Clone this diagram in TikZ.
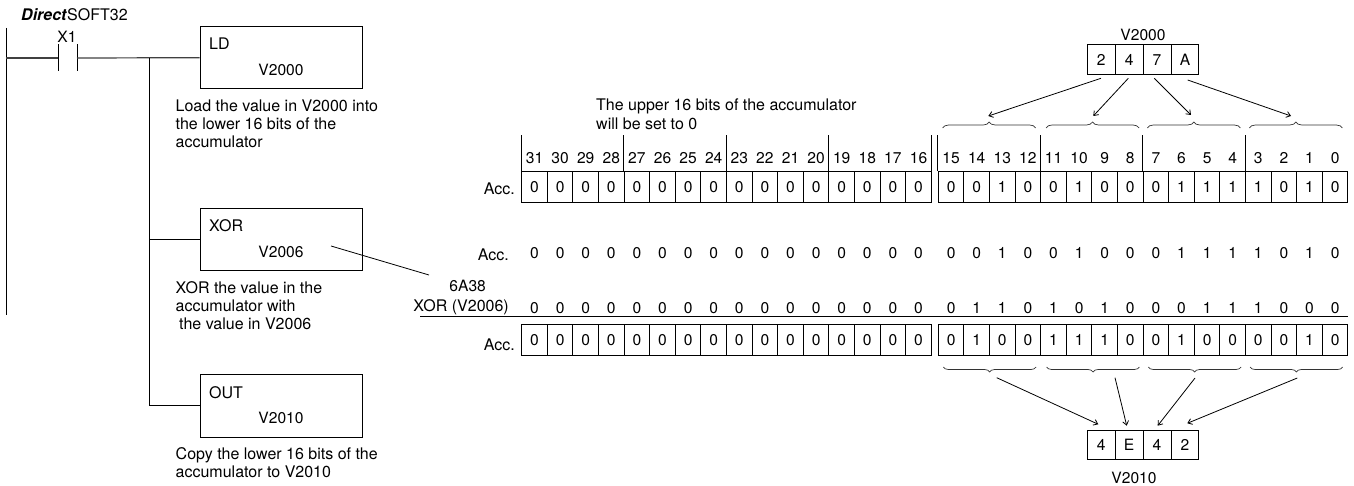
\documentclass[tikz,border=0pt]{standalone}
\usepackage{fontspec}
\setmainfont{TeX Gyre Heros}
\usetikzlibrary{arrows.meta,decorations.pathreplacing}
\tikzset{
  ln/.style={line width=0.9pt,black},
  rung/.style={line width=1.2pt,black!75},
  ptr/.style={line width=0.8pt,black,-{Straight Barb[length=4pt,width=6pt]}},
  brc/.style={line width=0.7pt,black!80,decorate,decoration={brace,amplitude=6pt}},
  brcm/.style={line width=0.7pt,black!80,decorate,decoration={brace,amplitude=5pt,mirror}},
  txt/.style={inner sep=0pt,anchor=base west,font=\fontsize{16}{18}\selectfont},
  txtc/.style={inner sep=0pt,anchor=base,font=\fontsize{15.6}{18}\selectfont},
  txte/.style={inner sep=0pt,anchor=base east,font=\fontsize{16}{18}\selectfont},
  cell/.style={draw,line width=0.9pt,inner sep=0pt,minimum width=25.6pt,minimum height=31pt,font=\fontsize{15.6}{18}\selectfont},
  hcell/.style={draw,line width=0.9pt,inner sep=0pt,minimum width=27.9pt,minimum height=29.3pt,font=\fontsize{15.6}{18}\selectfont},
  instr/.style={draw,line width=0.9pt,inner sep=0pt,minimum width=162pt,minimum height=62.5pt},
}
\newcommand{\bitx}[1]{\ifnum#1<16 \pgfmathparse{521.7+25.6*(#1+.5)}\else\pgfmathparse{938.3+25.6*(#1-16+.5)}\fi}
\begin{document}
\begin{tikzpicture}[x=1pt,y=-1pt]
\useasboundingbox (0,0) rectangle (1354,486);
% ladder
\node[txt] (title) at (21,20.5) {\textbf{\textit{Direct}}SOFT32};
\node[txtc] (x1) at (67,43) {X1};
\coordinate (railtop) at (6,28);
\coordinate (railbot) at (6,315);
\coordinate (railrung) at (6,58);
\coordinate (conla) at (58,58);
\coordinate (conra) at (77,58);
\coordinate (contl) at (58,44.5);
\coordinate (contlb) at (58,71.5);
\coordinate (contr) at (77,44.5);
\coordinate (contrb) at (77,71.5);
\coordinate (branch) at (149.5,58);
\draw[ln] (railtop) -- (railbot);
\draw[ln] (contl) -- (contlb);
\draw[ln] (contr) -- (contrb);
\node[instr] (ld) at (281,57.7) {};
\node[instr] (xor) at (281,239.7) {};
\node[instr] (out) at (281,405.7) {};
\draw[rung] (railrung) -- (conla);
\draw[rung] (conra) -- (ld.west);
\draw[ln] (branch) |- (xor.west);
\draw[ln] (branch) |- (out.west);
\node[txt] (ldt) at (209,50) {LD};
\node[txtc] (ldv) at (281,75.5) {V2000};
\node[txt] (xort) at (209,232) {XOR};
\node[txtc] (xorv) at (281,257.5) {V2006};
\node[txt] (outt) at (209,398) {OUT};
\node[txtc] (outv) at (281,423.5) {V2010};
\node[txt] (d1a) at (175.5,111.5) {Load the value in V2000 into};
\node[txt] (d1b) at (175.5,129.5) {the lower 16 bits of the};
\node[txt] (d1c) at (175.5,147.5) {accumulator};
\node[txt] (d2a) at (175.5,293.5) {XOR the value in the};
\node[txt] (d2b) at (175.5,311.5) {accumulator with};
\node[txt] (d2c) at (179,329.5) {the value in V2006};
\node[txt] (d3a) at (175.5,459.5) {Copy the lower 16 bits of the};
\node[txt] (d3b) at (175.5,477.5) {accumulator to V2010};
% pointer from XOR to constant
\coordinate (xs) at (331,246);
\coordinate (xe) at (429,275);
\draw[line width=0.8pt] (xs) -- (xe);
\node[txtc] (k) at (467.7,291.5) {6A38};
% labels
\node[txt] (up1) at (596,111) {The upper 16 bits of the accumulator};
\node[txt] (up2) at (596,129.5) {will be set to 0};
\node[txte] (acc1) at (515,194.5) {Acc.};
\node[txte] (acc2) at (509,260.5) {Acc.};
\node[txte] (xlab) at (509,312) {XOR (V2006)};
\node[txte] (acc3) at (515,350) {Acc.};
% bit numbers and rows
\foreach \n [count=\i from 0] in {31,30,29,28,27,26,25,24,23,22,21,20,19,18,17,16,15,14,13,12,11,10,9,8,7,6,5,4,3,2,1,0}{
  \bitx{\i}\let\xx\pgfmathresult
  \node[txtc] (n\i) at (\xx,163.5) {\n};
}
\foreach \b [count=\i from 0] in {0,0,0,0,0,0,0,0,0,0,0,0,0,0,0,0,0,0,1,0,0,1,0,0,0,1,1,1,1,0,1,0}{
  \bitx{\i}\let\xx\pgfmathresult
  \node[cell] (a\i) at (\xx,186.8) {\b};
  \node[txtc] (p\i) at (\xx,258.5) {\b};
}
\foreach \b [count=\i from 0] in {0,0,0,0,0,0,0,0,0,0,0,0,0,0,0,0,0,1,1,0,1,0,1,0,0,0,1,1,1,0,0,0}{
  \bitx{\i}\let\xx\pgfmathresult
  \node[txtc] (q\i) at (\xx,313) {\b};
}
\foreach \b [count=\i from 0] in {0,0,0,0,0,0,0,0,0,0,0,0,0,0,0,0,0,1,0,0,1,1,1,0,0,1,0,0,0,0,1,0}{
  \bitx{\i}\let\xx\pgfmathresult
  \node[cell] (r\i) at (\xx,339.7) {\b};
}
% rule
\coordinate (rulea) at (420,316.7);
\coordinate (ruleb) at (1348.3,316.7);
\draw[ln] (rulea) -- (ruleb);
% ticks
\foreach \i in {0,4,8,12,16,20,24,28}{
  \draw[ln] (a\i.north west) -- ++(0,-36);
}
\draw[ln] (a15.north east) -- ++(0,-36);
% hex boxes
\node[txtc] (v2000) at (1143,40.5) {V2000};
\foreach \h [count=\i from 0] in {2,4,7,A}{
  \node[hcell] (s\i) at ({1087.3+27.9*(\i+.5)},59.6) {\h};
}
\foreach \h [count=\i from 0] in {4,E,4,2}{
  \node[hcell] (t\i) at ({1087.3+27.9*(\i+.5)},444.6) {\h};
}
\node[txtc] (v2010) at (1134,483) {V2010};
% upper braces
\coordinate (ub1a) at (942.7,128); \coordinate (ub1b) at (1035.7,128);
\coordinate (ub2a) at (1046,128); \coordinate (ub2b) at (1139,128);
\coordinate (ub3a) at (1147.3,128); \coordinate (ub3b) at (1240.3,128);
\coordinate (ub4a) at (1249.3,128); \coordinate (ub4b) at (1342.3,128);
\draw[brc] (ub1a) -- (ub1b);
\draw[brc] (ub2a) -- (ub2b);
\draw[brc] (ub3a) -- (ub3b);
\draw[brc] (ub4a) -- (ub4b);
% lower braces
\coordinate (lb1a) at (943.3,367); \coordinate (lb1b) at (1036,367);
\coordinate (lb2a) at (1046.7,367); \coordinate (lb2b) at (1139.3,367);
\coordinate (lb3a) at (1148.3,367); \coordinate (lb3b) at (1241,367);
\coordinate (lb4a) at (1250,367); \coordinate (lb4b) at (1342.7,367);
\draw[brcm] (lb1a) -- (lb1b);
\draw[brcm] (lb2a) -- (lb2b);
\draw[brcm] (lb3a) -- (lb3b);
\draw[brcm] (lb4a) -- (lb4b);
% arrows upper
\coordinate (ua1) at (1101,78.3); \coordinate (ut1) at (988.3,116);
\coordinate (ua2) at (1128.3,78.3); \coordinate (ut2) at (1093.3,116);
\coordinate (ua3) at (1154.3,78.3); \coordinate (ut3) at (1191,115);
\coordinate (ua4) at (1187.7,80); \coordinate (ut4) at (1291,116);
\draw[ptr] (ua1) -- (ut1);
\draw[ptr] (ua2) -- (ut2);
\draw[ptr] (ua3) -- (ut3);
\draw[ptr] (ua4) -- (ut4);
% arrows lower
\coordinate (la1) at (996.7,377.7); \coordinate (lt1) at (1098.3,424.3);
\coordinate (la2) at (1115,377.7); \coordinate (lt2) at (1126.7,425.7);
\coordinate (la3) at (1195,378); \coordinate (lt3) at (1157.7,425.7);
\coordinate (la4) at (1297.3,378); \coordinate (lt4) at (1187.3,423.3);
\draw[ptr] (la1) -- (lt1);
\draw[ptr] (la2) -- (lt2);
\draw[ptr] (la3) -- (lt3);
\draw[ptr] (la4) -- (lt4);
\end{tikzpicture}
\end{document}
